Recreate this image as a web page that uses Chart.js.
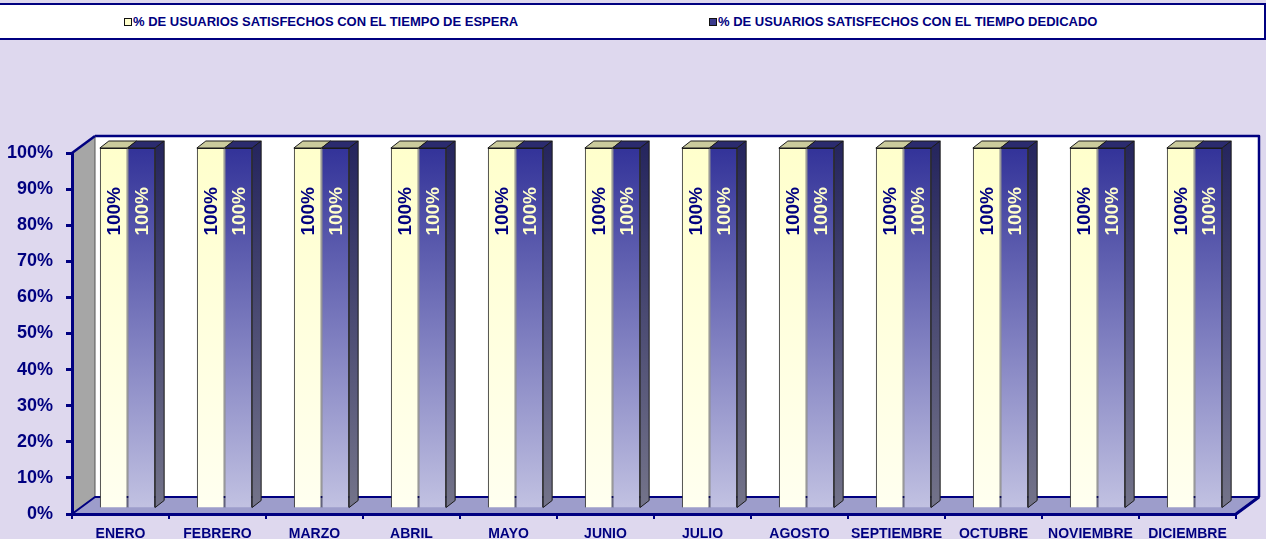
<!DOCTYPE html>
<html>
<head>
<meta charset="utf-8">
<script src="https://cdn.jsdelivr.net/npm/chart.js@4.4.1/dist/chart.umd.min.js"></script>
<style>
  html, body { margin: 0; padding: 0; background: #ded8ee; overflow: hidden; }
  #wrap { position: relative; width: 1266px; height: 539px; }
  #legend {
    position: absolute; left: -3px; top: 3px; width: 1265px; height: 33px;
    background: #fff; border: 2px solid #000080; box-sizing: content-box;
    font: bold 13px "Liberation Sans", Arial, sans-serif; color: #000080;
  }
  .item { position: absolute; top: 9px; white-space: nowrap; }
  .box { display: inline-block; width: 6px; height: 6px; border: 1.5px solid #111; margin-right: 1px; vertical-align: 0px; }
</style>
</head>
<body>
<div id="wrap">
  <canvas id="c"></canvas>
  <div id="legend">
    <span class="item" style="left:125px"><span class="box" style="background:#ffffcc"></span>% DE USUARIOS SATISFECHOS CON EL TIEMPO DE ESPERA</span>
    <span class="item" style="left:710px"><span class="box" style="background:#3a3a8c"></span>% DE USUARIOS SATISFECHOS CON EL TIEMPO DEDICADO</span>
  </div>
</div>
<script>
// Monthly satisfaction, both series at 100% all year.
const MONTHS = ["ENERO", "FEBRERO", "MARZO", "ABRIL", "MAYO", "JUNIO", "JULIO",
  "AGOSTO", "SEPTIEMBRE", "OCTUBRE", "NOVIEMBRE", "DICIEMBRE"];
const ESPERA = [100, 100, 100, 100, 100, 100, 100, 100, 100, 100, 100, 100];
const DEDICADO = [100, 100, 100, 100, 100, 100, 100, 100, 100, 100, 100, 100];
const Y_TICKS = [0, 10, 20, 30, 40, 50, 60, 70, 80, 90, 100];

const NAVY = "#000080";
const FONT = '"Liberation Sans", Arial, sans-serif';

// 3D look: wall depth, bar shift inside the box, bar depth
const WALL = { dx: 23, dy: -17 };
const SHIFT = { dx: 7, dy: -5 };
const DEPTH = { dx: 9, dy: -7 };

function vGrad(ctx, area, top, bottom) {
  if (!area) return top;
  const g = ctx.createLinearGradient(0, area.top, 0, area.bottom);
  g.addColorStop(0, top);
  g.addColorStop(1, bottom);
  return g;
}

const box3d = {
  id: "box3d",
  beforeDraw(chart) {
    const { ctx, chartArea: a } = chart;
    const { dx, dy } = WALL;
    ctx.save();
    ctx.lineJoin = "round";
    // back wall
    ctx.fillStyle = "#ffffff";
    ctx.fillRect(a.left + dx, a.top + dy, a.right - a.left, a.bottom - a.top);
    ctx.strokeStyle = NAVY;
    ctx.lineWidth = 2.5;
    ctx.beginPath();
    ctx.moveTo(a.left + dx, a.top + dy);
    ctx.lineTo(a.right + dx, a.top + dy);
    ctx.lineTo(a.right + dx, a.bottom + dy);
    ctx.stroke();
    // left side wall
    ctx.beginPath();
    ctx.moveTo(a.left, a.top);
    ctx.lineTo(a.left + dx, a.top + dy);
    ctx.lineTo(a.left + dx, a.bottom + dy);
    ctx.lineTo(a.left, a.bottom);
    ctx.closePath();
    ctx.fillStyle = "#a6a6a6";
    ctx.fill();
    ctx.lineWidth = 1;
    ctx.strokeStyle = "#555";
    ctx.stroke();
    ctx.strokeStyle = NAVY;
    ctx.lineWidth = 2.5;
    ctx.beginPath();
    ctx.moveTo(a.left, a.top);
    ctx.lineTo(a.left + dx, a.top + dy);
    ctx.stroke();
    // floor
    ctx.beginPath();
    ctx.moveTo(a.left, a.bottom);
    ctx.lineTo(a.right, a.bottom);
    ctx.lineTo(a.right + dx, a.bottom + dy);
    ctx.lineTo(a.left + dx, a.bottom + dy);
    ctx.closePath();
    ctx.fillStyle = "#9d9dcb";
    ctx.fill();
    ctx.strokeStyle = NAVY;
    ctx.lineWidth = 2;
    ctx.stroke();
    ctx.lineWidth = 3;
    ctx.beginPath();
    ctx.moveTo(a.right, a.bottom);
    ctx.lineTo(a.right + dx, a.bottom + dy);
    ctx.stroke();
    ctx.restore();
  },
  beforeDatasetsDraw(chart) {
    chart.ctx.save();
    chart.ctx.translate(SHIFT.dx, SHIFT.dy);
  },
  afterDatasetsDraw(chart) {
    const { ctx } = chart;
    const last = chart.data.datasets.length - 1;
    chart.data.datasets.forEach((ds, di) => {
      const meta = chart.getDatasetMeta(di);
      meta.data.forEach((bar, i) => {
        const l = bar.x - bar.width / 2, r = bar.x + bar.width / 2;
        ctx.lineWidth = 1;
        ctx.strokeStyle = "#1a1a1a";
        // top face
        ctx.beginPath();
        ctx.moveTo(l, bar.y);
        ctx.lineTo(l + DEPTH.dx, bar.y + DEPTH.dy);
        ctx.lineTo(r + DEPTH.dx, bar.y + DEPTH.dy);
        ctx.lineTo(r, bar.y);
        ctx.closePath();
        ctx.fillStyle = ds.topColor;
        ctx.fill();
        ctx.stroke();
        // right side face, only visible on the rear series
        if (di === last) {
          ctx.beginPath();
          ctx.moveTo(r, bar.y);
          ctx.lineTo(r + DEPTH.dx, bar.y + DEPTH.dy);
          ctx.lineTo(r + DEPTH.dx, bar.base + DEPTH.dy);
          ctx.lineTo(r, bar.base);
          ctx.closePath();
          ctx.fillStyle = vGrad(ctx, chart.chartArea, "#26265e", "#74748a");
          ctx.fill();
          ctx.stroke();
        }
        // value label, rotated
        ctx.save();
        ctx.translate(bar.x, bar.y + 39);
        ctx.rotate(-Math.PI / 2);
        ctx.font = `bold 19px ${FONT}`;
        ctx.fillStyle = ds.labelColor;
        ctx.textAlign = "right";
        ctx.textBaseline = "middle";
        ctx.fillText(ds.data[i] + "%", 0, 1);
        ctx.restore();
      });
    });
    ctx.restore();
  },
};

new Chart(document.getElementById("c"), {
  type: "bar",
  data: {
    labels: MONTHS,
    datasets: [
      {
        label: "% DE USUARIOS SATISFECHOS CON EL TIEMPO DE ESPERA",
        data: ESPERA,
        backgroundColor: (c) => vGrad(c.chart.ctx, c.chart.chartArea, "#ffffcc", "#fffff0"),
        topColor: "#cbcb9c",
        labelColor: NAVY,
        borderColor: "#1a1a1a",
        borderWidth: 1,
        clip: false,
      },
      {
        label: "% DE USUARIOS SATISFECHOS CON EL TIEMPO DEDICADO",
        data: DEDICADO,
        backgroundColor: (c) => vGrad(c.chart.ctx, c.chart.chartArea, "#333399", "#c2c2e2"),
        topColor: "#2b2b6e",
        labelColor: "#ffffcc",
        borderColor: "#1a1a1a",
        borderWidth: 1,
        clip: false,
      },
    ],
  },
  options: {
    responsive: true,
    maintainAspectRatio: false,
    animation: false,
    layout: { padding: { top: 153, right: 30, bottom: 0, left: 0 } },
    datasets: { bar: { categoryPercentage: 0.57, barPercentage: 1 } },
    plugins: { legend: { display: false }, tooltip: { enabled: false } },
    scales: {
      x: {
        afterFit: (s) => { s.height = 25; },
        grid: { drawOnChartArea: false, tickLength: 5, color: NAVY, lineWidth: 2 },
        border: { color: NAVY, width: 3 },
        ticks: { color: NAVY, font: { family: FONT, size: 14, weight: "bold" }, padding: 7, maxRotation: 0, autoSkip: false },
      },
      y: {
        min: 0,
        max: 100,
        afterFit: (s) => { s.width = 72; },
        afterBuildTicks: (s) => { s.ticks = Y_TICKS.map((v) => ({ value: v })); },
        grid: { drawOnChartArea: false, tickLength: 6, color: NAVY, lineWidth: 3 },
        border: { color: NAVY, width: 3 },
        ticks: { color: NAVY, font: { family: FONT, size: 18, weight: "bold" }, padding: 13, callback: (v) => v + "%" },
      },
    },
  },
  plugins: [box3d],
});
</script>
</body>
</html>
